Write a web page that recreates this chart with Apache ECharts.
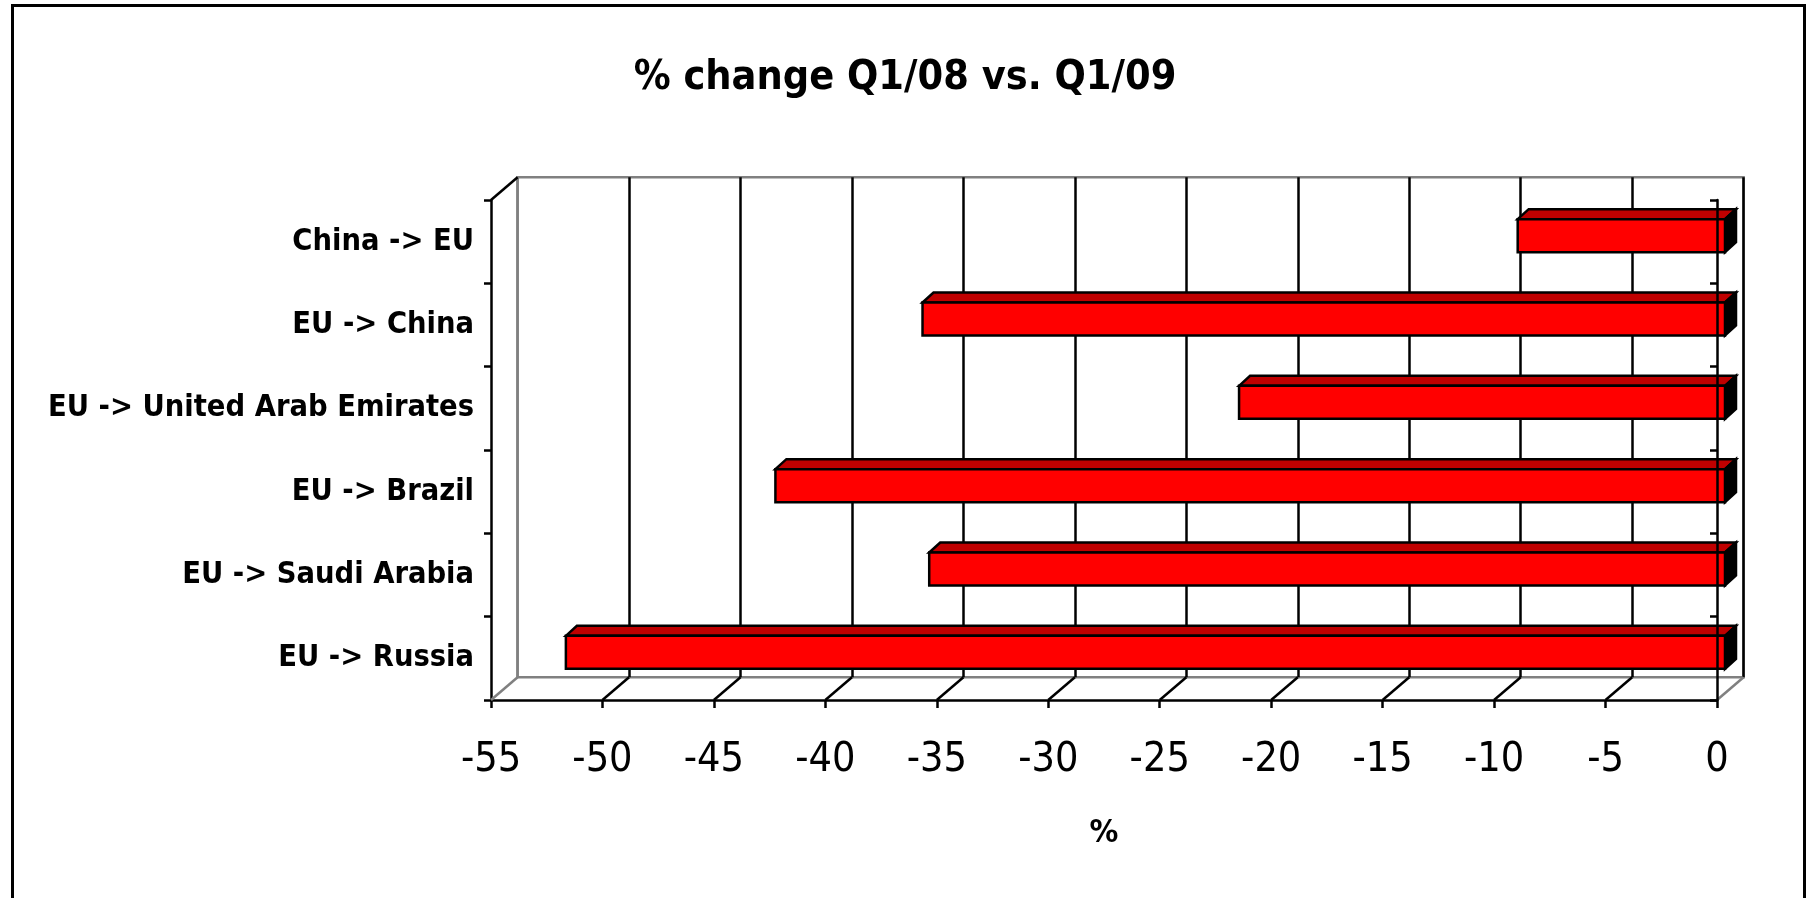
<!DOCTYPE html>
<html>
<head>
<meta charset="utf-8">
<title>% change Q1/08 vs. Q1/09</title>
<script src="https://cdn.jsdelivr.net/npm/echarts@6/dist/echarts.min.js"></script>
<style>
  html, body { margin: 0; padding: 0; background: #fff; }
  #chart { width: 1810px; height: 898px; }
</style>
</head>
<body>
<div id="chart"></div>
<script>
// Trade routes, listed top to bottom
const categories = [
  'China -> EU',
  'EU -> China',
  'EU -> United Arab Emirates',
  'EU -> Brazil',
  'EU -> Saudi Arabia',
  'EU -> Russia'
];
// Percentage change, Q1/08 vs. Q1/09
const changePct = [-9.3, -36.0, -21.8, -42.6, -35.7, -52.0];

// Value axis range and tick step
const xMin = -55;
const xMax = 0;
const xStep = 5;

const FONT = '"DejaVu Sans Condensed", "Liberation Sans", Arial, sans-serif';

// Depth of the pseudo-3D box and of the bars
const DEPTH = [26.6, -22.7];
const BAR_SHIFT = [8, -6];
const BAR_DEPTH = [11, -10];
const BAR_H = 33;

const tickValues = [];
for (let v = xMin; v <= xMax + 1e-9; v += xStep) tickValues.push(v);

// Back wall grid lines: grey at the left edge, black elsewhere
const backLineColors = tickValues.map((v, i) => (i === 0 ? '#808080' : '#000000'));

const chart = echarts.init(document.getElementById('chart'), null, { renderer: 'canvas' });

function renderBar(params, api) {
  const v = api.value(0);
  const idx = api.value(1);
  const pv = api.coord([v, idx]);
  const p0 = api.coord([0, idx]);
  const xl = pv[0] + BAR_SHIFT[0];
  const xr = p0[0] + BAR_SHIFT[0];
  const yc = p0[1] + BAR_SHIFT[1];
  const yt = yc - BAR_H / 2;
  const yb = yc + BAR_H / 2;
  const dx = BAR_DEPTH[0], dy = BAR_DEPTH[1];
  const stroke = { stroke: '#000', lineWidth: 2.5, lineJoin: 'miter' };
  return {
    type: 'group',
    children: [
      {
        type: 'polygon',
        shape: { points: [[xl, yt], [xl + dx, yt + dy], [xr + dx, yt + dy], [xr, yt]] },
        style: Object.assign({ fill: '#C00000' }, stroke)
      },
      {
        type: 'polygon',
        shape: { points: [[xr, yt], [xr + dx, yt + dy], [xr + dx, yb + dy], [xr, yb]] },
        style: Object.assign({ fill: '#000000' }, stroke)
      },
      {
        type: 'rect',
        shape: { x: xl, y: yt, width: xr - xl, height: yb - yt },
        style: Object.assign({ fill: '#FF0000' }, stroke)
      }
    ]
  };
}

function renderFloor(params, api) {
  const v = api.value(0);
  const cs = params.coordSys;
  const x = api.coord([v, 0])[0];
  const yBottom = cs.y + cs.height;
  const edge = (v === xMin || v === xMax);
  const children = [{
    type: 'line',
    shape: { x1: x, y1: yBottom, x2: x + DEPTH[0], y2: yBottom + DEPTH[1] },
    style: { stroke: edge ? '#808080' : '#000000', lineWidth: 2.5 }
  }];
  if (v === xMin) {
    children.push({
      type: 'line',
      shape: { x1: x, y1: cs.y, x2: x + DEPTH[0], y2: cs.y + DEPTH[1] },
      style: { stroke: '#000000', lineWidth: 2.5 }
    });
  }
  return { type: 'group', children: children };
}

const option = {
  backgroundColor: '#ffffff',
  animation: false,
  title: {
    text: '% change Q1/08 vs. Q1/09',
    left: 'center',
    top: 53,
    textStyle: { fontFamily: FONT, fontWeight: 'bold', fontSize: 41, color: '#000' }
  },
  graphic: [{
    type: 'rect',
    left: 10,
    top: 3,
    shape: { width: 1792, height: 920 },
    style: { fill: 'none', stroke: '#000', lineWidth: 3 },
    silent: true
  }],
  grid: [
    { left: 491, right: 93, top: 200, bottom: 198, containLabel: false },
    {
      left: 491 + DEPTH[0], right: 93 - DEPTH[0], top: 200 + DEPTH[1], bottom: 198 - DEPTH[1],
      show: true, borderColor: '#808080', borderWidth: 2.5, backgroundColor: 'transparent'
    }
  ],
  xAxis: [
    {
      type: 'value', gridIndex: 0, min: xMin, max: xMax, interval: xStep,
      name: '%', nameLocation: 'middle', nameGap: 118,
      nameTextStyle: { fontFamily: FONT, fontWeight: 'bold', fontSize: 32, color: '#000' },
      axisLine: { show: true, onZero: false, lineStyle: { color: '#000', width: 2.5 } },
      axisTick: { show: true, length: 8, lineStyle: { color: '#000', width: 2.5 } },
      axisLabel: { fontFamily: FONT, fontSize: 41, color: '#000', margin: 40 },
      splitLine: { show: false }
    },
    {
      type: 'value', gridIndex: 1, min: xMin, max: xMax, interval: xStep,
      axisLine: { show: false }, axisTick: { show: false }, axisLabel: { show: false },
      splitLine: { show: true, lineStyle: { color: backLineColors, width: 2.5 } }
    }
  ],
  yAxis: [
    {
      type: 'category', gridIndex: 0, data: categories, inverse: true, position: 'left',
      axisLine: { show: true, onZero: false, lineStyle: { color: '#000', width: 2.5 } },
      axisTick: { show: true, length: 7, lineStyle: { color: '#000', width: 2.5 } },
      axisLabel: {
        fontFamily: FONT, fontWeight: 'bold', fontSize: 30.5, color: '#000',
        margin: 17, padding: [8, 0, 0, 0]
      },
      splitLine: { show: false }
    },
    {
      type: 'category', gridIndex: 0, data: categories, inverse: true, position: 'right', z: 10,
      axisLine: { show: true, onZero: false, lineStyle: { color: '#000', width: 2.5 } },
      axisTick: { show: true, inside: true, length: 7, lineStyle: { color: '#000', width: 2.5 } },
      axisLabel: { show: false },
      splitLine: { show: false }
    },
    {
      type: 'category', gridIndex: 1, data: categories, inverse: true,
      axisLine: { show: false }, axisTick: { show: false }, axisLabel: { show: false },
      splitLine: { show: false }
    }
  ],
  series: [
    {
      type: 'custom',
      name: 'floor',
      xAxisIndex: 0, yAxisIndex: 0,
      renderItem: renderFloor,
      data: tickValues.map(v => [v, 0]),
      silent: true,
      z: 1
    },
    {
      type: 'custom',
      name: '% change',
      xAxisIndex: 0, yAxisIndex: 0,
      renderItem: renderBar,
      data: changePct.map((v, i) => [v, i]),
      z: 3
    }
  ]
};

chart.setOption(option);
</script>
</body>
</html>
